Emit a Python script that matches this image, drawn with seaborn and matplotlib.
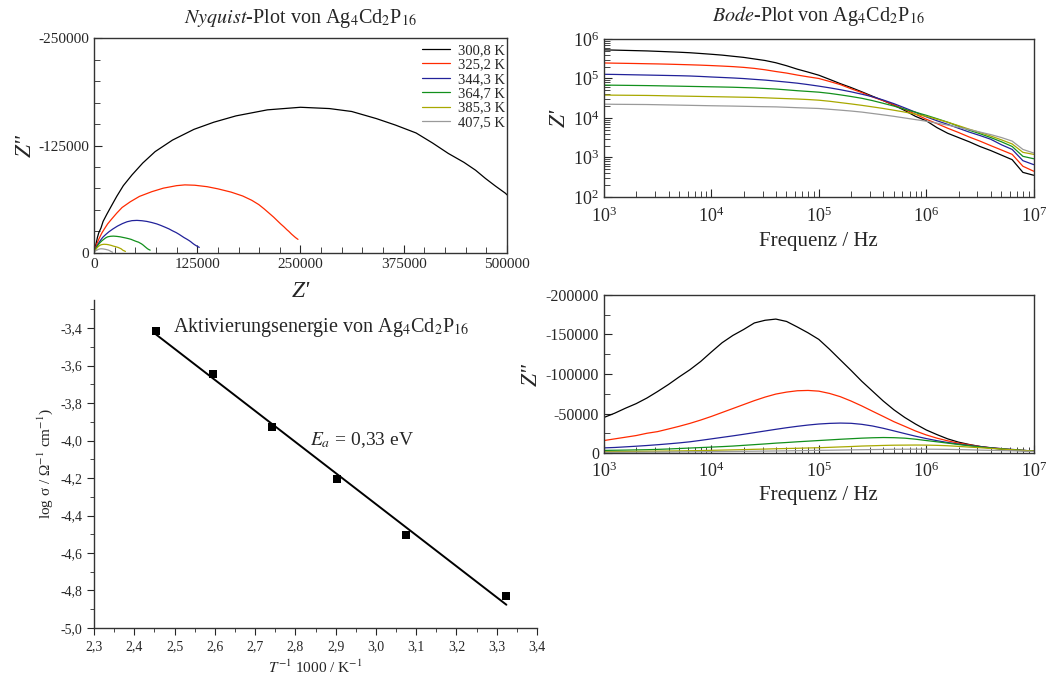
import pandas as pd
import matplotlib
matplotlib.use("Agg")
import matplotlib.pyplot as plt
import matplotlib.ticker as mticker
import seaborn as sns

# impedance spectra of Ag4Cd2P16, one series per temperature
temps = ["300,8 K", "325,2 K", "344,3 K", "364,7 K", "385,3 K", "407,5 K"]
colors = ["#000000", "#ff2a00", "#22229a", "#12901c", "#a8a800", "#9a9a9a"]

freq = [1000, 1259, 1585, 1995, 2512, 3162, 3981, 5012, 6310, 7943,
        10000, 12590, 15850, 19950, 25120, 31620, 39810, 50120, 63100, 79430,
        100000, 125900, 158500, 199500, 251200, 316200, 398100, 501200, 631000, 794300,
        1000000, 1259000, 1585000, 1995000, 2512000, 3162000, 3981000, 5012000, 6310000, 7943000,
        10000000]

zre_300 = [530000, 522000, 514000, 506000, 498000, 486000, 474000, 462000, 448000, 429000,
           410000, 390000, 365000, 342000, 312000, 285000, 250000, 210000, 172000, 145000,
           121000, 95000, 74000, 59000, 46000, 35500, 27500, 21000, 15500, 11000,
           8500, 5700, 4100, 3200, 2500, 1900, 1500, 1150, 880, 420, 355]
zim_300 = [-45000, -50400, -56700, -62500, -69600, -77900, -86700, -96300, -105400, -115800,
           -127900, -139600, -148800, -156300, -164600, -168000, -169500, -166500, -159500, -152100,
           -143800, -131300, -117900, -104600, -90800, -78300, -65800, -54600, -45000, -36700,
           -29200, -23300, -17900, -13800, -10800, -8300, -6300, -5000, -3750, -2900, -2100]

zre_325 = [247000, 244000, 241500, 239000, 236000, 233500, 230000, 226000, 222000, 217500,
           212000, 206000, 199500, 191000, 180000, 166000, 150000, 137000, 122000, 110000,
           100000, 84000, 70000, 55000, 44000, 34000, 27500, 21500, 16500, 12500,
           9300, 7200, 5500, 4300, 3300, 2600, 2000, 1550, 1200, 600, 450]
zim_325 = [-15800, -17900, -20000, -22100, -25000, -27100, -30400, -33800, -37500, -41700,
           -46300, -51300, -56300, -61300, -66300, -70800, -74600, -77100, -78800, -79200,
           -78300, -75400, -71300, -65800, -59600, -52900, -46300, -39600, -33800, -27900,
           -22900, -18800, -15400, -12500, -10400, -8300, -6700, -5400, -4200, -3300, -2500]

zre_344 = [127500, 126500, 125000, 123500, 122000, 120500, 119000, 117500, 115500, 112500,
           109000, 106000, 103000, 99500, 95000, 91000, 86000, 81000, 76000, 70000,
           64000, 58000, 52000, 46000, 40000, 34500, 28500, 23000, 18000, 14000,
           10700, 8500, 6900, 5500, 4400, 3600, 2900, 2100, 1600, 830, 660]
zim_344 = [-6500, -7000, -7800, -8600, -9500, -10500, -11600, -12800, -14200, -16000,
           -17900, -19800, -21700, -23700, -25800, -27900, -30000, -32000, -33800, -35400,
           -36700, -37500, -37900, -37600, -36300, -34200, -31300, -28000, -24600, -21300,
           -18300, -15600, -13300, -11300, -9600, -8100, -6700, -5600, -4600, -3500, -2500]

zre_364 = [68000, 67500, 67000, 66500, 66000, 65300, 64500, 63800, 63000, 62300,
           61500, 60800, 60000, 58800, 57500, 55800, 54000, 51500, 49000, 47000,
           45000, 42000, 38500, 35000, 31500, 27500, 23500, 20000, 16600, 14000,
           11700, 9600, 7800, 6200, 4900, 4000, 3200, 2500, 1900, 1070, 930]
zim_364 = [-3300, -3500, -3700, -3950, -4200, -4600, -5100, -5700, -6300, -6900,
           -7500, -8100, -8800, -9700, -10600, -11500, -12500, -13300, -14200, -15000,
           -15800, -16600, -17400, -18100, -18800, -19300, -19600, -19400, -18800, -17500,
           -15800, -14200, -12500, -10800, -9200, -7700, -6300, -5200, -4200, -3300, -2500]

zre_385 = [38000, 37800, 37600, 37400, 37200, 36800, 36300, 35900, 35500, 35100,
           34700, 34300, 33900, 33500, 33100, 32400, 31600, 30900, 30200, 29300,
           28200, 26500, 24500, 22700, 20900, 19100, 17400, 15700, 14100, 12500,
           11000, 9300, 7800, 6400, 5200, 4300, 3500, 2800, 2200, 1350, 1200]
zim_385 = [-1700, -1800, -1950, -2100, -2250, -2400, -2550, -2700, -2900, -3100,
           -3400, -3700, -4000, -4300, -4700, -5000, -5400, -5700, -6000, -6400,
           -6700, -7200, -7700, -8200, -8800, -9200, -9600, -9900, -10000, -10100,
           -10000, -9700, -9200, -8400, -7500, -6700, -5800, -5000, -4200, -3300, -2500]

zre_407 = [22400, 22200, 22100, 22000, 21900, 21650, 21400, 21150, 20900, 20650,
           20400, 20200, 20000, 19750, 19500, 19300, 19100, 18650, 18200, 17800,
           17400, 16600, 15800, 15000, 14100, 13000, 12000, 11000, 10000, 9100,
           8300, 7400, 6600, 5800, 5100, 4400, 3800, 3200, 2600, 1600, 1300]
zim_407 = [-900, -950, -1000, -1080, -1150, -1250, -1350, -1450, -1550, -1650,
           -1750, -1880, -2000, -2150, -2300, -2450, -2600, -2780, -2950, -3150,
           -3350, -3550, -3750, -3950, -4150, -4350, -4550, -4700, -4800, -4850,
           -4850, -4750, -4600, -4350, -4050, -3700, -3400, -3100, -2800, -2400, -2000]

# Arrhenius data
inv_T = [2.454, 2.595, 2.742, 2.904, 3.075, 3.324]
log_sigma = [-3.416, -3.645, -3.930, -4.207, -4.505, -4.830]


def comma(v, pos):
    return f"{v:.1f}".replace(".", ",")


def build_frame():
    re_list = [zre_300, zre_325, zre_344, zre_364, zre_385, zre_407]
    im_list = [zim_300, zim_325, zim_344, zim_364, zim_385, zim_407]
    parts = []
    for t, zr, zi in zip(temps, re_list, im_list):
        parts.append(pd.DataFrame({"T": t, "f": freq, "zre": zr, "zim": zi}))
    return pd.concat(parts, ignore_index=True)


sns.set_style("ticks")
plt.rcParams["font.family"] = ["Liberation Serif", "DejaVu Serif"]
plt.rcParams["mathtext.fontset"] = "stix"
plt.rcParams["axes.unicode_minus"] = False
plt.rcParams["axes.linewidth"] = 1.0
plt.rcParams["axes.edgecolor"] = "#333333"

df = build_frame()
line_kw = dict(hue="T", hue_order=temps, palette=colors, estimator=None, lw=0.9)

fig = plt.figure(figsize=(10.48, 6.8), dpi=100)
ax_ny = fig.add_axes([0.0897, 0.628, 0.394, 0.316])
ax_re = fig.add_axes([0.5763, 0.7103, 0.410, 0.2324])
ax_im = fig.add_axes([0.5763, 0.3338, 0.410, 0.2324])
ax_ar = fig.add_axes([0.0897, 0.0765, 0.4227, 0.4824])
ax_ar.patch.set_visible(False)  # its box reaches under the Z" label of the panel on the right

# Nyquist plot
sns.lineplot(data=df, x="zre", y="zim", sort=False, ax=ax_ny, **line_kw)
ax_ny.set_xlim(0, 500000)
ax_ny.set_ylim(0, -250000)
ax_ny.xaxis.set_major_locator(mticker.MultipleLocator(125000))
ax_ny.xaxis.set_minor_locator(mticker.MultipleLocator(25000))
ax_ny.set_yticks([0, -125000, -250000])
ax_ny.yaxis.set_minor_locator(mticker.MultipleLocator(25000))
ax_ny.tick_params(which="both", direction="in", labelsize=11)
ax_ny.tick_params(which="major", length=6)
ax_ny.tick_params(which="minor", length=4)
ax_ny.set_xlabel("Z'", fontstyle="italic", fontsize=17, labelpad=7)
ax_ny.set_ylabel('Z"', fontstyle="italic", fontsize=17, labelpad=2)
ax_ny.set_title(r"$\mathit{Nyquist}$-Plot von Ag$_4$Cd$_2$P$_{16}$", fontsize=14.5, pad=11)
handles, labels = ax_ny.get_legend_handles_labels()
ax_ny.legend(handles, labels, loc="upper right", bbox_to_anchor=(1.01, 1.0), frameon=False,
             fontsize=10.5, handlelength=1.9, labelspacing=0.08, borderaxespad=0.0, handletextpad=0.55)

# Bode plot, real part
sns.lineplot(data=df, x="f", y="zre", legend=False, ax=ax_re, **line_kw)
ax_re.set(xscale="log", yscale="log", xlim=(1e3, 1e7), ylim=(1e2, 1e6))
ax_re.tick_params(which="both", direction="in", labelsize=13)
ax_re.tick_params(which="major", length=6)
ax_re.tick_params(which="minor", length=4)
ax_re.tick_params(axis="x", pad=7)
ax_re.set_xlabel("Frequenz / Hz", fontsize=15, labelpad=4)
ax_re.set_ylabel("Z'", fontstyle="italic", fontsize=17, labelpad=2)
ax_re.set_title(r"$\mathit{Bode}$-Plot von Ag$_4$Cd$_2$P$_{16}$", fontsize=14.5, pad=13)

# Bode plot, imaginary part
sns.lineplot(data=df, x="f", y="zim", legend=False, ax=ax_im, **line_kw)
ax_im.set(xscale="log", xlim=(1e3, 1e7), ylim=(0, -200000))
ax_im.yaxis.set_major_locator(mticker.MultipleLocator(50000))
ax_im.yaxis.set_minor_locator(mticker.MultipleLocator(25000))
ax_im.tick_params(axis="x", which="both", direction="in", labelsize=13, pad=6)
ax_im.tick_params(axis="y", which="both", direction="in", labelsize=11.5)
ax_im.tick_params(which="major", length=6)
ax_im.tick_params(which="minor", length=4)
ax_im.set_xlabel("Frequenz / Hz", fontsize=15, labelpad=4)
ax_im.set_ylabel('Z"', fontstyle="italic", fontsize=17)
ax_im.yaxis.set_label_coords(-0.145, 0.5)

# Arrhenius plot
sns.regplot(x=inv_T, y=log_sigma, ci=None, marker="s", color="black", ax=ax_ar,
            scatter_kws=dict(s=38, linewidths=0, alpha=1), line_kws=dict(lw=1.4))
sns.despine(ax=ax_ar)
ax_ar.set_xlim(2.3, 3.4)
ax_ar.set_ylim(-5.0, -3.25)
ax_ar.xaxis.set_major_locator(mticker.MultipleLocator(0.1))
ax_ar.xaxis.set_minor_locator(mticker.MultipleLocator(0.05))
ax_ar.yaxis.set_major_locator(mticker.MultipleLocator(0.2))
ax_ar.yaxis.set_minor_locator(mticker.MultipleLocator(0.1))
ax_ar.xaxis.set_major_formatter(mticker.FuncFormatter(comma))
ax_ar.yaxis.set_major_formatter(mticker.FuncFormatter(comma))
ax_ar.tick_params(which="both", direction="out", labelsize=10)
ax_ar.tick_params(which="major", length=5)
ax_ar.tick_params(which="minor", length=3)
ax_ar.set_xlabel(r"$T^{-1}$ 1000 / K$^{-1}$", fontsize=11)
ax_ar.set_ylabel(r"log σ / Ω$^{-1}$ cm$^{-1}$)", fontsize=11)
ax_ar.text(0.178, 0.915, r"Aktivierungsenergie von Ag$_4$Cd$_2$P$_{16}$", transform=ax_ar.transAxes,
           fontsize=14.5, ha="left", va="center")
ax_ar.text(2.836, -4.0, r"$E_a$ = 0,33 eV", fontsize=14, ha="left", va="center")

fig.savefig("out.png", dpi=100)
